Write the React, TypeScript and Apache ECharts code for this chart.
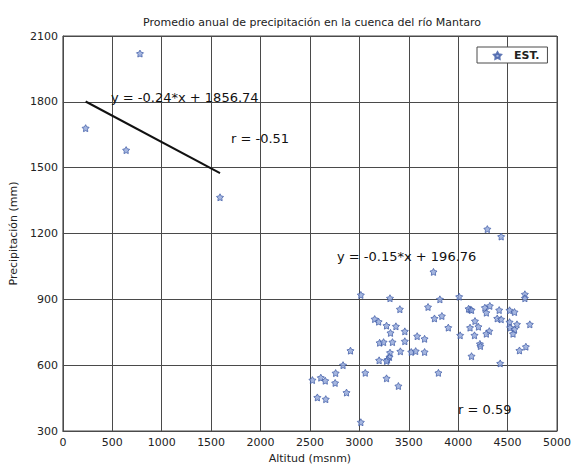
import React, { useEffect, useRef } from "react";
import * as echarts from "echarts";

// Estaciones: altitud (msnm) y precipitación media anual (mm)
const altitudes: number[] = [
  230, 640, 780, 1590,
  3015, 3310, 3695, 3410, 3155, 3195, 3275, 3370, 3460, 3315, 3585, 3660, 3460, 3205, 3245, 3335,
  2910, 3415, 3310, 3525, 3570, 3660, 3305, 3285, 3200, 3275, 2835, 2760, 3060, 2525, 2610, 2655,
  2755, 3275, 3395, 2870, 2575, 2660, 3015,
  4295, 4435, 3750, 4010, 3815, 4675, 4675, 4120, 4105, 4135, 4270, 4320, 4285, 4415, 4520, 4570,
  3760, 3835, 4395, 4435, 4170, 4520, 4595, 4725, 3900, 4120, 4205, 4525, 4570, 4555, 4315, 4285,
  4020, 4165, 4220, 4225, 4685, 4620, 4135, 4425, 3800,
];
const precipitation: number[] = [
  1680, 1580, 2020, 1365,
  920, 905, 865, 855, 810, 798, 780, 777, 754, 747, 732, 720, 709, 702, 705, 705,
  666, 663, 657, 660, 664, 660, 637, 625, 622, 619, 600, 564, 565, 532, 543, 529,
  519, 540, 505, 475, 453, 445, 340,
  1220, 1186, 1025, 912, 900, 923, 905, 854, 857, 851, 862, 870, 839, 851, 850, 842,
  813, 824, 813, 809, 801, 796, 786, 786, 771, 771, 775, 771, 763, 743, 755, 743,
  736, 736, 697, 687, 684, 667, 641, 608, 565,
];

// Ajuste lineal del grupo de baja altitud
const lowSlope = -0.24;
const lowIntercept = 1856.74;
const lowRange: number[] = [230, 1590];

// Ejes
const xTicks = { min: 0, max: 5000, step: 500 };
const yTicks = { min: 300, max: 2100, step: 300 };

const FONT = "DejaVu Sans";

function starPath(outer: number, inner: number): string {
  const pts: string[] = [];
  for (let i = 0; i < 10; i++) {
    const r = i % 2 === 0 ? outer : inner;
    const a = -Math.PI / 2 + (i * Math.PI) / 5;
    pts.push(`${(r * Math.cos(a)).toFixed(3)},${(r * Math.sin(a)).toFixed(3)}`);
  }
  return "path://M" + pts.join(" L") + " Z";
}

const STAR = starPath(10, 5.4);

export default function App() {
  const ref = useRef<HTMLDivElement>(null);

  useEffect(() => {
    if (!ref.current) return;
    const chart = echarts.init(ref.current, undefined, { renderer: "svg" });
    const points = altitudes.map((a, i) => [a, precipitation[i]]);
    const fitLine = lowRange.map((x) => [x, lowSlope * x + lowIntercept]);

    chart.setOption({
      animation: false,
      backgroundColor: "#fff",
      textStyle: { fontFamily: FONT },
      title: {
        text: "Promedio anual de precipitación en la cuenca del río Mantaro",
        left: 307,
        textAlign: "center",
        top: 12,
        textStyle: { fontFamily: FONT, fontSize: 11, fontWeight: "normal", color: "#222" },
      },
      grid: {
        left: 58,
        right: 17,
        top: 36,
        bottom: 35,
        show: true,
        borderColor: "#4a4a4a",
        borderWidth: 1,
      },
      legend: {
        left: 477,
        top: 47,
        orient: "vertical",
        padding: [3, 8, 2, 16],
        itemGap: 0,
        itemWidth: 7,
        itemHeight: 7,
        borderColor: "#4a4a4a",
        borderWidth: 1,
        backgroundColor: "#fff",
        data: [{ name: "EST.", icon: STAR }],
        textStyle: { fontFamily: FONT, fontSize: 11, fontWeight: "bold", color: "#222", padding: [0, 0, 0, 8] },
      },
      xAxis: {
        type: "value",
        min: xTicks.min,
        max: xTicks.max,
        interval: xTicks.step,
        name: "Altitud (msnm)",
        nameLocation: "middle",
        nameGap: 22,
        nameTextStyle: { fontFamily: FONT, fontSize: 11, color: "#222" },
        axisLine: { show: true, lineStyle: { color: "#4a4a4a", width: 1 } },
        axisTick: { show: false },
        axisLabel: { margin: 6, fontFamily: FONT, fontSize: 11, color: "#222", formatter: (v: number) => String(v) },
        splitLine: { show: true, lineStyle: { color: "#4a4a4a", width: 1 } },
      },
      yAxis: {
        type: "value",
        min: yTicks.min,
        max: yTicks.max,
        interval: yTicks.step,
        name: "Precipitación (mm)",
        nameLocation: "middle",
        nameGap: 36,
        nameTextStyle: { fontFamily: FONT, fontSize: 11, color: "#222" },
        axisLine: { show: true, lineStyle: { color: "#4a4a4a", width: 1 } },
        axisTick: { show: false },
        axisLabel: { margin: 5, fontFamily: FONT, fontSize: 11, color: "#222", formatter: (v: number) => String(v) },
        splitLine: { show: true, lineStyle: { color: "#4a4a4a", width: 1 } },
      },
      series: [
        {
          name: "EST.",
          type: "scatter",
          data: points,
          symbol: STAR,
          symbolSize: 7,
          itemStyle: { color: "#8ea4d8", borderColor: "#3b58a4", borderWidth: 0.9 },
          z: 3,
        },
        {
          name: "ajuste",
          type: "line",
          data: fitLine,
          showSymbol: false,
          symbol: "none",
          lineStyle: { color: "#111", width: 2 },
          z: 4,
        },
      ],
      graphic: [
        {
          type: "text",
          left: 111,
          top: 91,
          z: 10,
          style: { text: "y = -0.24*x + 1856.74", fontFamily: FONT, fontSize: 13, fill: "#111" },
        },
        {
          type: "text",
          left: 231,
          top: 132,
          z: 10,
          style: { text: "r = -0.51", fontFamily: FONT, fontSize: 13, fill: "#111" },
        },
        {
          type: "text",
          left: 337,
          top: 250,
          z: 10,
          style: { text: "y = -0.15*x + 196.76", fontFamily: FONT, fontSize: 13, fill: "#111" },
        },
        {
          type: "text",
          left: 458,
          top: 403,
          z: 10,
          style: { text: "r = 0.59", fontFamily: FONT, fontSize: 13, fill: "#111" },
        },
      ],
    });

    return () => chart.dispose();
  }, []);

  return <div ref={ref} style={{ width: 574, height: 469, position: "absolute", left: 0, top: 0 }} />;
}
